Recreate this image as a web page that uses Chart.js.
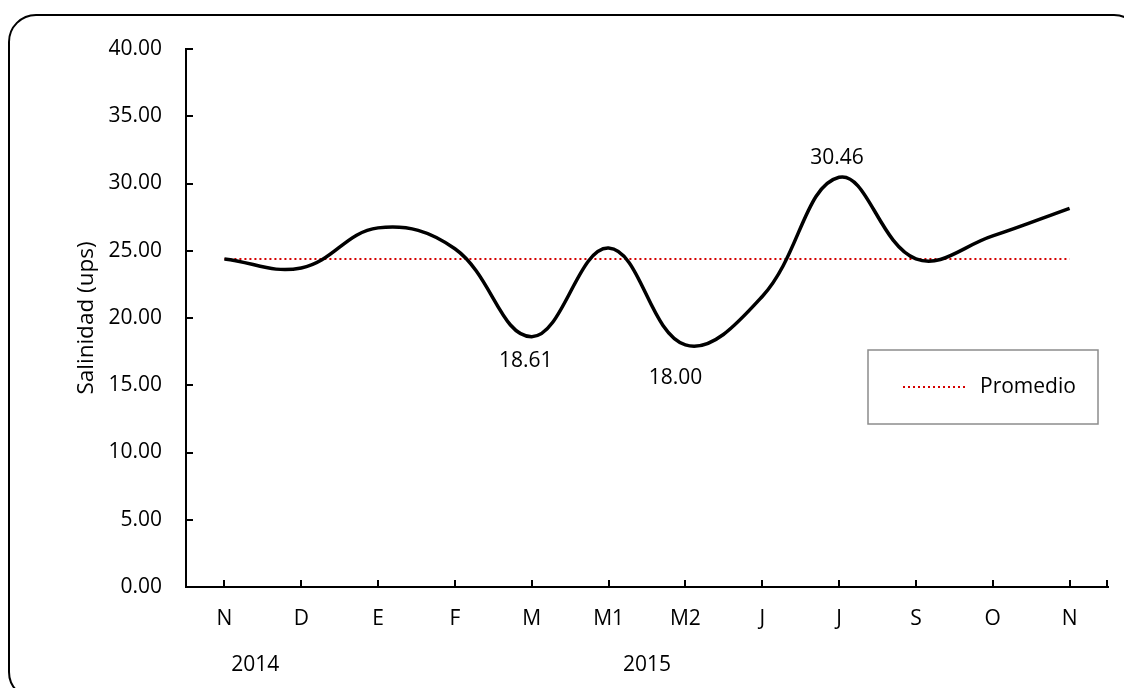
<!DOCTYPE html>
<html>
<head>
<meta charset="utf-8">
<script src="https://cdn.jsdelivr.net/npm/chart.js@4/dist/chart.umd.min.js"></script>
<style>
  html, body { margin: 0; padding: 0; background: #fff; overflow: hidden; }
  #wrap { position: relative; width: 1124px; height: 688px; }
  #wrap canvas { position: absolute; left: 0; top: 0; }
  #frame {
    position: absolute; left: 8px; top: 14px; width: 1134px; height: 686px;
    border: 2px solid #000; border-radius: 28px; box-sizing: border-box;
    pointer-events: none;
  }
</style>
</head>
<body>
<div id="wrap">
  <canvas id="chart" width="1124" height="688"></canvas>
  <div id="frame"></div>
</div>
<script>
// Monthly sampling, Nov 2014 – Nov 2015
const months = ['N', 'D', 'E', 'F', 'M', 'M1', 'M2', 'J', 'J', 'S', 'O', 'N'];
const salinity = [24.39, 23.72, 26.70, 25.15, 18.61, 25.20, 18.00, 21.60, 30.46, 24.40, 26.10, 28.15];
const average = [24.38, 24.38, 24.38, 24.38, 24.38, 24.38, 24.38, 24.38, 24.38, 24.38, 24.38, 24.38];
const years = ['2014', '2015'];
const labelledPoints = [4, 6, 8];

const FONT = 'Open Sans';
const TEXT_SIZE = 21;

// Short tick marks pointing into the plot area
const innerTicks = {
  id: 'innerTicks',
  afterDraw(chart) {
    const { ctx, scales: { x, y } } = chart;
    ctx.save();
    ctx.strokeStyle = '#000';
    ctx.lineWidth = 2;
    ctx.beginPath();
    y.ticks.forEach((t, i) => {
      const py = Math.round(y.getPixelForTick(i));
      ctx.moveTo(y.right, py);
      ctx.lineTo(y.right + 7, py);
    });
    x.ticks.forEach((t, i) => {
      const px = Math.round(x.getPixelForTick(i));
      ctx.moveTo(px, x.top);
      ctx.lineTo(px, x.top - 7);
    });
    ctx.moveTo(x.right - 1, x.top);
    ctx.lineTo(x.right - 1, x.top - 7);
    ctx.stroke();
    ctx.restore();
  }
};

// Year captions under the month labels
const yearCaptions = {
  id: 'yearCaptions',
  afterDraw(chart) {
    const { ctx, scales: { x } } = chart;
    const step = x.getPixelForValue(1) - x.getPixelForValue(0);
    const at = [0.4, 5.5];
    ctx.save();
    ctx.fillStyle = '#000';
    ctx.font = `${TEXT_SIZE}px "${FONT}"`;
    ctx.textAlign = 'center';
    ctx.textBaseline = 'middle';
    years.forEach((yr, i) => {
      ctx.fillText(yr, x.getPixelForValue(0) + at[i] * step, x.top + 78);
    });
    ctx.restore();
  }
};

// Value labels on the extreme points
const valueLabels = {
  id: 'valueLabels',
  afterDatasetsDraw(chart) {
    const { ctx } = chart;
    const meta = chart.getDatasetMeta(0);
    const shift = { 4: [-6, 24], 6: [-10, 33], 8: [-2, -19] };
    ctx.save();
    ctx.fillStyle = '#000';
    ctx.font = `${TEXT_SIZE}px "${FONT}"`;
    ctx.textAlign = 'center';
    ctx.textBaseline = 'middle';
    labelledPoints.forEach(i => {
      const pt = meta.data[i];
      const [dx, dy] = shift[i];
      ctx.fillText(salinity[i].toFixed(2), pt.x + dx, pt.y + dy);
    });
    ctx.restore();
  }
};

// Boxed legend inside the plot area
const boxedLegend = {
  id: 'boxedLegend',
  afterDraw(chart) {
    const { ctx } = chart;
    const ds = chart.data.datasets[1];
    const bx = 868, by = 350, bw = 230, bh = 74;
    ctx.save();
    ctx.fillStyle = '#fff';
    ctx.fillRect(bx, by, bw, bh);
    ctx.strokeStyle = '#8c8c8c';
    ctx.lineWidth = 1.5;
    ctx.strokeRect(bx, by, bw, bh);
    const cy = by + 37;
    ctx.strokeStyle = ds.borderColor;
    ctx.lineWidth = ds.borderWidth;
    ctx.setLineDash(ds.borderDash);
    ctx.beginPath();
    ctx.moveTo(bx + 35, cy);
    ctx.lineTo(bx + 99, cy);
    ctx.stroke();
    ctx.setLineDash([]);
    ctx.fillStyle = '#000';
    ctx.font = `${TEXT_SIZE}px "${FONT}"`;
    ctx.textAlign = 'left';
    ctx.textBaseline = 'middle';
    ctx.fillText(ds.label, bx + 112, cy);
    ctx.restore();
  }
};

Chart.defaults.font.family = FONT;
Chart.defaults.font.size = TEXT_SIZE;
Chart.defaults.color = '#000';

new Chart(document.getElementById('chart'), {
  type: 'line',
  data: {
    labels: months,
    datasets: [
      {
        label: 'Salinidad',
        data: salinity,
        borderColor: '#000',
        borderWidth: 3.5,
        tension: 0.4,
        pointRadius: 0,
        fill: false
      },
      {
        label: 'Promedio',
        data: average,
        borderColor: '#d40000',
        borderWidth: 2,
        borderDash: [2, 3],
        tension: 0,
        pointRadius: 0,
        fill: false
      }
    ]
  },
  options: {
    responsive: false,
    animation: false,
    devicePixelRatio: 1,
    layout: { padding: { top: 49, right: 16, bottom: 0, left: 0 } },
    plugins: {
      legend: { display: false },
      tooltip: { enabled: false }
    },
    scales: {
      x: {
        type: 'category',
        offset: true,
        grid: { display: false, drawTicks: false, tickLength: 0 },
        border: { display: true, color: '#000', width: 2 },
        ticks: { padding: 19, maxRotation: 0, autoSkip: false },
        afterFit(scale) { scale.height = 101; }
      },
      y: {
        min: 0,
        max: 40,
        grid: { display: false, drawTicks: false, tickLength: 0 },
        border: { display: true, color: '#000', width: 2 },
        ticks: {
          stepSize: 5,
          padding: 24,
          callback: v => Number(v).toFixed(2)
        },
        title: {
          display: true,
          text: 'Salinidad (ups)',
          font: { size: 22.5 },
          padding: { top: 73, bottom: 0 }
        },
        afterFit(scale) { scale.width = 186; }
      }
    }
  },
  plugins: [innerTicks, valueLabels, yearCaptions, boxedLegend]
});
</script>
</body>
</html>
